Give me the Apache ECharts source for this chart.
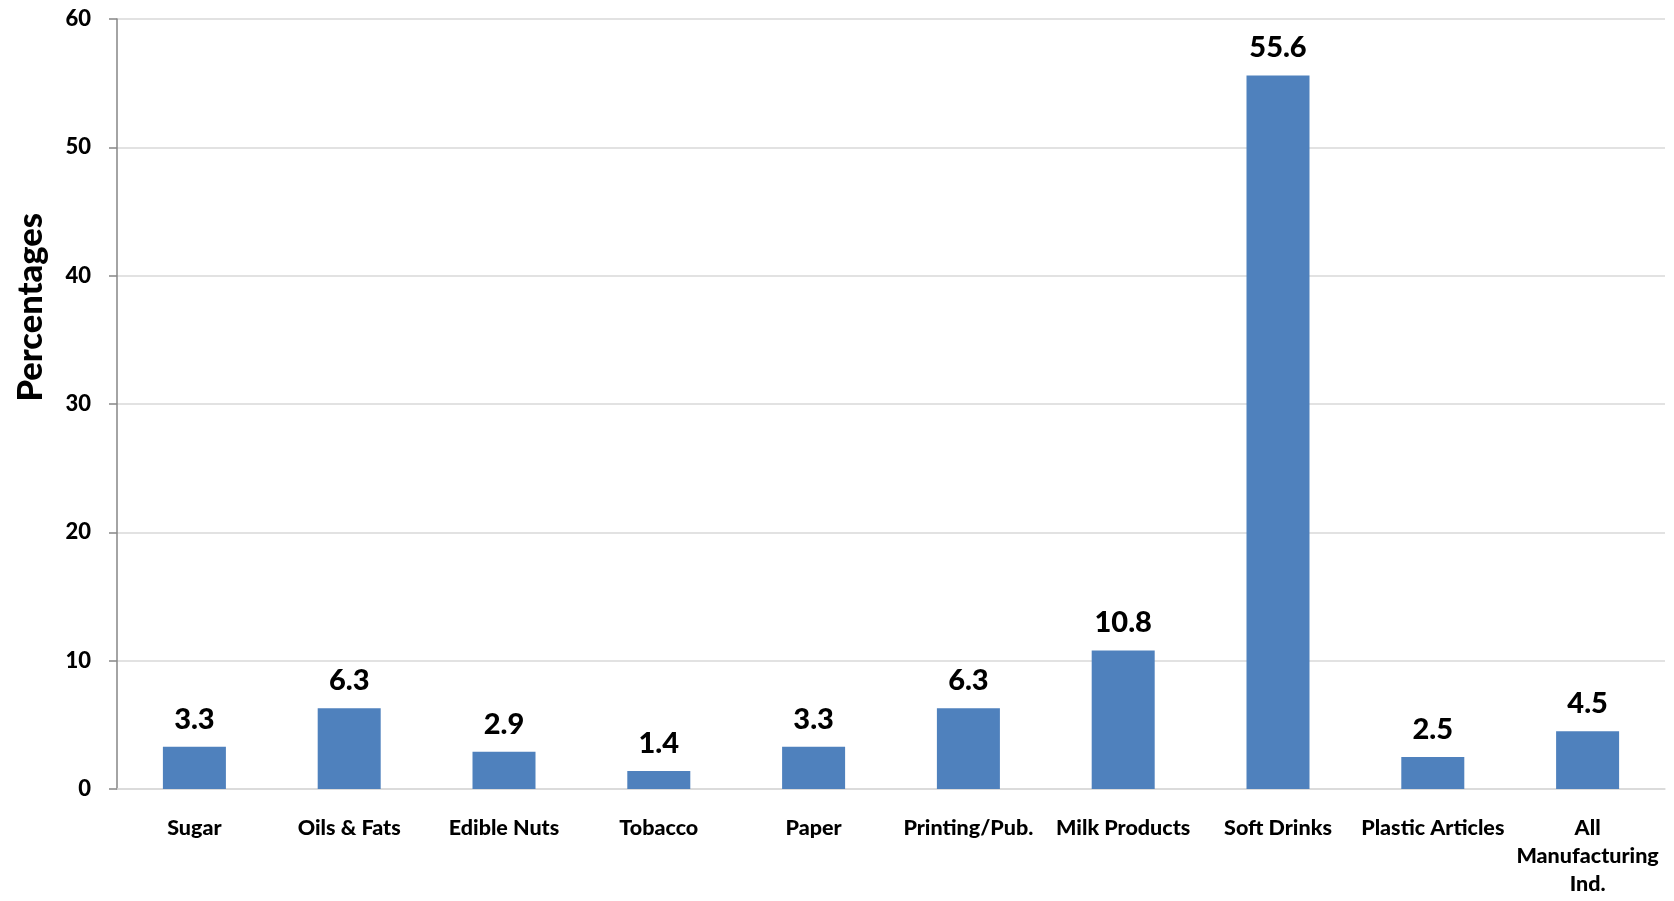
<!DOCTYPE html>
<html>
<head>
<meta charset="utf-8">
<script src="https://cdn.jsdelivr.net/npm/echarts@6/dist/echarts.min.js"></script>
<style>
html,body{margin:0;padding:0;background:#fff;}
#chart{width:1674px;height:901px;}
</style>
</head>
<body>
<div id="chart"></div>
<script>
const categories = ['Sugar', 'Oils & Fats', 'Edible Nuts', 'Tobacco', 'Paper', 'Printing/Pub.', 'Milk Products', 'Soft Drinks', 'Plastic Articles', 'All\nManufacturing\nInd.'];
const values = [3.3, 6.3, 2.9, 1.4, 3.3, 6.3, 10.8, 55.6, 2.5, 4.5];
const yAxisTitle = 'Percentages';

const FONT = 'Lato';
const W = 900;
const chart = echarts.init(document.getElementById('chart'));
chart.setOption({
  animation: false,
  backgroundColor: '#ffffff',
  grid: { left: 117, right: 9, top: 19, bottom: 112, containLabel: false },
  xAxis: {
    type: 'category',
    data: categories,
    axisLine: { show: true, lineStyle: { color: '#d9d9d9', width: 1.5 } },
    axisTick: { show: false },
    axisLabel: { interval: 0, margin: 25, fontFamily: FONT, fontWeight: W, fontSize: 21.5, color: '#000', lineHeight: 28 }
  },
  yAxis: {
    type: 'value',
    min: 0, max: 60, interval: 10,
    axisLine: { show: true, lineStyle: { color: '#868686', width: 1.5 } },
    axisTick: { show: true, length: 8, lineStyle: { color: '#868686', width: 1.5 } },
    axisLabel: { margin: 26, fontFamily: FONT, fontWeight: W, fontSize: 22, color: '#000' },
    splitLine: { show: true, lineStyle: { color: '#d9d9d9', width: 1.5 } }
  },
  graphic: [{
    type: 'text',
    left: 13, top: 213,
    rotation: Math.PI / 2,
    style: { text: yAxisTitle, fontFamily: FONT, fontWeight: W, fontSize: 34.5, fill: '#000' }
  }],
  series: [{
    type: 'bar',
    data: values,
    barWidth: '40.7%',
    itemStyle: { color: '#4f81bd' },
    label: { show: true, position: 'top', distance: 13, fontFamily: FONT, fontWeight: W, fontSize: 29, color: '#000', formatter: p => p.value.toFixed(1) }
  }]
});
</script>
</body>
</html>
